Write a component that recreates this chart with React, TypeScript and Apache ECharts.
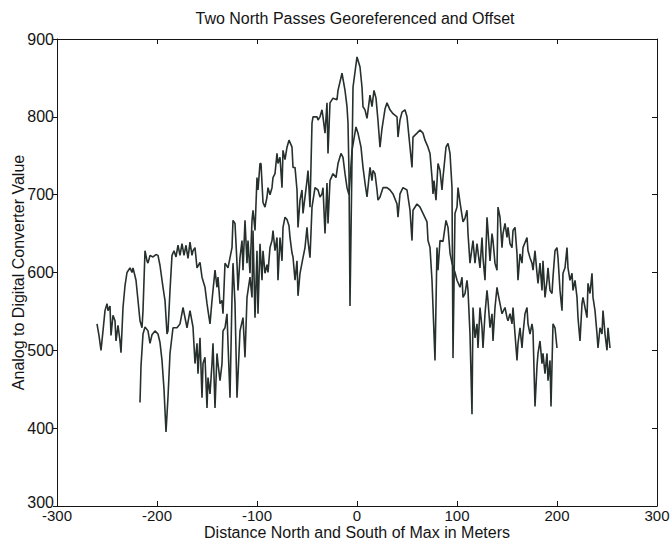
import React, { useEffect, useRef } from "react";
import * as echarts from "echarts";

const chartTitle = "Two North Passes Georeferenced and Offset";
const xAxisTitle = "Distance North and South of Max in Meters";
const yAxisTitle = "Analog to Digital Converter Value";

const xTicks = [-300, -200, -100, 0, 100, 200, 300];
const yTicks = [300, 400, 500, 600, 700, 800, 900];

// Pass A (upper trace)
const passAX = [
  -260, -258, -256, -254, -252, -250, -249, -247, -246, -244, -242, -241, -239, -237, -236, -234, -232, -230,
  -227, -225, -224, -221, -219, -217, -215, -214, -212, -210, -209, -207, -204, -201, -199, -197, -194, -192,
  -190, -189, -187, -185, -183, -181, -179, -177, -175, -173, -171, -169, -167, -165, -164, -162, -160, -157,
  -155, -152, -150, -149, -147, -145, -142, -140, -139, -137, -135, -134, -132, -129, -125, -124, -122, -120,
  -119, -117, -115, -114, -112, -110, -109, -107, -105, -104, -102, -100, -99, -97, -96, -94, -92, -90, -89,
  -87, -85, -84, -82, -80, -79, -77, -75, -74, -72, -70, -68, -65, -64, -62, -60, -59, -57, -55, -54, -50,
  -49, -47, -45, -44, -40, -39, -37, -35, -34, -32, -30, -29, -27, -24, -20, -19, -15, -12, -10, -9, -8, -7,
  -4, 0, 3, 5, 6, 8, 10, 13, 15, 17, 19, 21, 23, 25, 28, 30, 33, 36, 40, 41, 43, 45, 48, 50, 51, 55, 56, 60,
  63, 66, 68, 71, 73, 75, 76, 77, 79, 81, 83, 85, 86, 89, 91, 93, 95, 96, 98, 100, 101, 103, 106, 108, 110,
  111, 113, 116, 118, 120, 123, 125, 126, 128, 130, 131, 133, 135, 136, 138, 140, 141, 143, 145, 146, 148,
  150, 151, 153, 155, 156, 158, 160, 161, 163, 165, 166, 170, 171, 173, 175, 176, 178, 180, 181, 183, 185,
  186, 188, 190, 191, 193, 195, 196, 198, 200, 201, 203, 205, 206, 208, 210, 211, 213, 215, 216, 218, 220,
  221, 223, 225, 226, 228, 230, 231, 233, 235, 236, 238, 240, 241, 243, 245, 246, 248, 250, 251, 253,
];
const passAY = [
  534, 519, 500, 525, 551, 560, 551, 557, 519, 545, 538, 512, 532, 512, 497, 555, 583, 600,
  606, 600, 606, 590, 564, 538, 529, 551, 628, 615, 612, 622, 620, 623, 622, 609, 581, 564,
  521, 525, 577, 622, 628, 620, 635, 622, 637, 622, 635, 618, 639, 622, 628, 632, 606, 613,
  594, 581, 560, 551, 534, 564, 603, 581, 594, 560, 564, 547, 612, 606, 632, 667, 663, 612,
  577, 619, 641, 603, 667, 612, 641, 599, 667, 680, 654, 722, 706, 740, 740, 690, 684, 697, 709,
  700, 709, 722, 727, 753, 740, 748, 709, 757, 745, 761, 770, 761, 735, 735, 706, 658, 693, 706, 676, 718,
  731, 684, 792, 800, 800, 796, 800, 809, 800, 779, 818, 753, 818, 824, 822, 834, 856, 834, 813, 792, 727, 557,
  838, 877, 864, 838, 813, 809, 798, 828, 813, 834, 824, 795, 761, 785, 810, 818, 809, 804, 800, 774, 796, 806, 809, 800, 787, 735, 774, 779,
  783, 779, 770, 761, 753, 722, 701, 718, 693, 740, 731, 706, 722, 761, 766, 753, 709, 490, 676, 684, 709, 690, 665, 670, 680,
  650, 612, 641, 612, 637, 606, 645, 619, 590, 671, 654, 615, 650, 641, 612, 603, 684, 671, 632, 650, 663,
  645, 658, 637, 632, 654, 658, 624, 590, 624, 612, 632, 645, 628, 619, 612, 603, 628, 599, 586, 612, 577,
  615, 568, 590, 606, 577, 573, 594, 628, 632, 619, 577, 551, 599, 606, 632, 606, 590, 599, 577, 590, 568,
  542, 512, 560, 568, 555, 542, 586, 573, 599, 568, 551, 521, 503, 529, 521, 551, 521, 500, 529, 503,
];

// Pass B (lower trace)
const passBX = [
  -217, -216, -214, -212, -209, -207, -205, -202, -199, -197, -195, -193, -191, -189, -187, -184, -180, -177,
  -174, -170, -167, -164, -162, -160, -159, -157, -155, -154, -152, -150, -149, -147, -145, -144, -142, -140,
  -139, -137, -135, -134, -132, -130, -129, -127, -125, -124, -122, -120, -117, -114, -112, -110, -107, -105,
  -104, -102, -100, -99, -97, -95, -94, -92, -90, -89, -87, -85, -84, -82, -80, -79, -77, -75, -74, -72, -70,
  -68, -67, -65, -64, -62, -60, -59, -57, -54, -52, -50, -49, -47, -45, -42, -39, -37, -35, -34, -32, -30,
  -29, -27, -24, -21, -19, -16, -14, -12, -10, -8, -5, -1, 1, 4, 6, 8, 10, 13, 15, 16, 18, 20, 21, 23, 26,
  30, 33, 36, 40, 41, 43, 46, 50, 53, 55, 56, 60, 63, 66, 70, 71, 73, 75, 78, 80, 81, 83, 86, 89, 91, 93, 95,
  98, 100, 103, 105, 106, 108, 110, 111, 113, 115, 116, 118, 120, 121, 123, 125, 126, 128, 130, 131, 133,
  135, 136, 138, 140, 141, 143, 145, 148, 150, 151, 153, 155, 156, 158, 160, 161, 163, 165, 166, 168, 170,
  171, 173, 175, 176, 178, 180, 181, 183, 185, 186, 188, 190, 191, 193, 194, 196, 198, 200,
];
const passBY = [
  433, 480, 521, 530, 525, 509, 520, 525, 521, 510, 487, 450, 395, 440, 496, 529, 529, 534,
  555, 529, 551, 530, 483, 509, 470, 516, 439, 483, 491, 426, 465, 444, 483, 509, 426, 496,
  483, 461, 483, 525, 529, 547, 509, 439, 568, 612, 560, 439, 525, 542, 491, 568, 594, 568,
  654, 542, 628, 547, 637, 590, 628, 599, 610, 600, 632, 641, 654, 628, 645, 590, 645, 615, 658, 671, 668,
  660, 645, 625, 620, 590, 615, 570, 599, 619, 632, 658, 641, 619, 684, 709, 706, 697, 701, 709, 650, 715,
  663, 718, 727, 722, 740, 753, 748, 727, 709, 700, 757, 787, 779, 761, 735, 715, 697, 735, 718, 731, 727, 706, 693, 697, 709,
  709, 706, 701, 688, 671, 701, 709, 706, 680, 641, 680, 688, 684, 676, 665, 641, 632, 590, 487, 632, 603, 641, 640, 667, 658, 625, 612,
  600, 590, 581, 594, 568, 573, 590, 577, 521, 418, 555, 516, 534, 503, 555, 529, 503, 547, 577, 564, 529,
  547, 512, 555, 581, 573, 560, 547, 555, 542, 538, 547, 534, 555, 521, 487, 509, 529, 503, 521, 547, 555,
  534, 521, 534, 525, 428, 480, 496, 512, 483, 496, 470, 496, 461, 487, 428, 534, 529, 503,
];

const FONT = "'Liberation Sans', Arial, Helvetica, sans-serif";
const INK = "#141414";
const LINE = "#26302c";

export default function App() {
  const ref = useRef<HTMLDivElement>(null);
  useEffect(() => {
    if (!ref.current) return;
    const chart = echarts.init(ref.current, undefined, { renderer: "svg" });
    const dataA = passAX.map((x, i) => [x, passAY[i]]);
    const dataB = passBX.map((x, i) => [x, passBY[i]]);
    const xMin = xTicks[0];
    const xMax = xTicks[xTicks.length - 1];
    const yMin = yTicks[0];
    const yMax = yTicks[yTicks.length - 1];
    const xStep = xTicks[1] - xTicks[0];
    const yStep = yTicks[1] - yTicks[0];
    const axisLine = { show: true, onZero: false, lineStyle: { color: INK, width: 1 } };
    chart.setOption({
      animation: false,
      backgroundColor: "#ffffff",
      textStyle: { fontFamily: FONT },
      grid: { left: 57, right: 15, top: 39, bottom: 35, containLabel: false, outerBoundsMode: "none" },
      graphic: [
        {
          type: "text",
          x: 355,
          y: 18,
          style: {
            text: chartTitle,
            fill: INK,
            font: `16px ${FONT}`,
            textAlign: "center",
            textVerticalAlign: "middle",
          },
        },
      ],
      xAxis: [
        {
          type: "value",
          position: "bottom",
          min: xMin,
          max: xMax,
          interval: xStep,
          axisLine,
          axisTick: { show: true, inside: true, length: 5, lineStyle: { color: INK } },
          axisLabel: { color: INK, fontSize: 15, fontFamily: FONT, margin: 2, lineHeight: 15 },
          splitLine: { show: false },
          name: xAxisTitle,
          nameLocation: "middle",
          nameGap: 18,
          nameMoveOverlap: false,
          nameTextStyle: { color: INK, fontSize: 16, fontFamily: FONT, lineHeight: 16 },
        },
        {
          type: "value",
          position: "top",
          min: xMin,
          max: xMax,
          interval: xStep,
          axisLine,
          axisTick: { show: true, inside: true, length: 5, lineStyle: { color: INK } },
          axisLabel: { show: false },
          splitLine: { show: false },
        },
      ],
      yAxis: [
        {
          type: "value",
          position: "left",
          min: yMin,
          max: yMax,
          interval: yStep,
          axisLine,
          axisTick: { show: true, inside: false, length: 4, lineStyle: { color: INK } },
          axisLabel: {
            color: INK,
            fontSize: 16,
            fontFamily: FONT,
            margin: 3,
            formatter: (v: number) => (v === yMin ? `{low|${v}}` : `${v}`),
            rich: { low: { fontSize: 16, fontFamily: FONT, color: INK, padding: [0, 0, 8, 0] } },
          },
          splitLine: { show: false },
          name: yAxisTitle,
          nameLocation: "middle",
          nameGap: 31,
          nameMoveOverlap: false,
          nameTextStyle: { color: INK, fontSize: 16, fontFamily: FONT },
        },
        {
          type: "value",
          position: "right",
          min: yMin,
          max: yMax,
          interval: yStep,
          axisLine,
          axisTick: { show: true, inside: true, length: 5, lineStyle: { color: INK } },
          axisLabel: { show: false },
          splitLine: { show: false },
        },
      ],
      series: [
        {
          type: "line",
          name: "Pass A",
          data: dataA,
          xAxisIndex: 0,
          yAxisIndex: 0,
          showSymbol: false,
          symbol: "none",
          lineStyle: { color: LINE, width: 1.6 },
        },
        {
          type: "line",
          name: "Pass B",
          data: dataB,
          xAxisIndex: 0,
          yAxisIndex: 0,
          showSymbol: false,
          symbol: "none",
          lineStyle: { color: LINE, width: 1.6 },
        },
      ],
    });
    return () => chart.dispose();
  }, []);
  return <div ref={ref} style={{ width: 672, height: 541, position: "absolute", left: 0, top: 0 }} />;
}
